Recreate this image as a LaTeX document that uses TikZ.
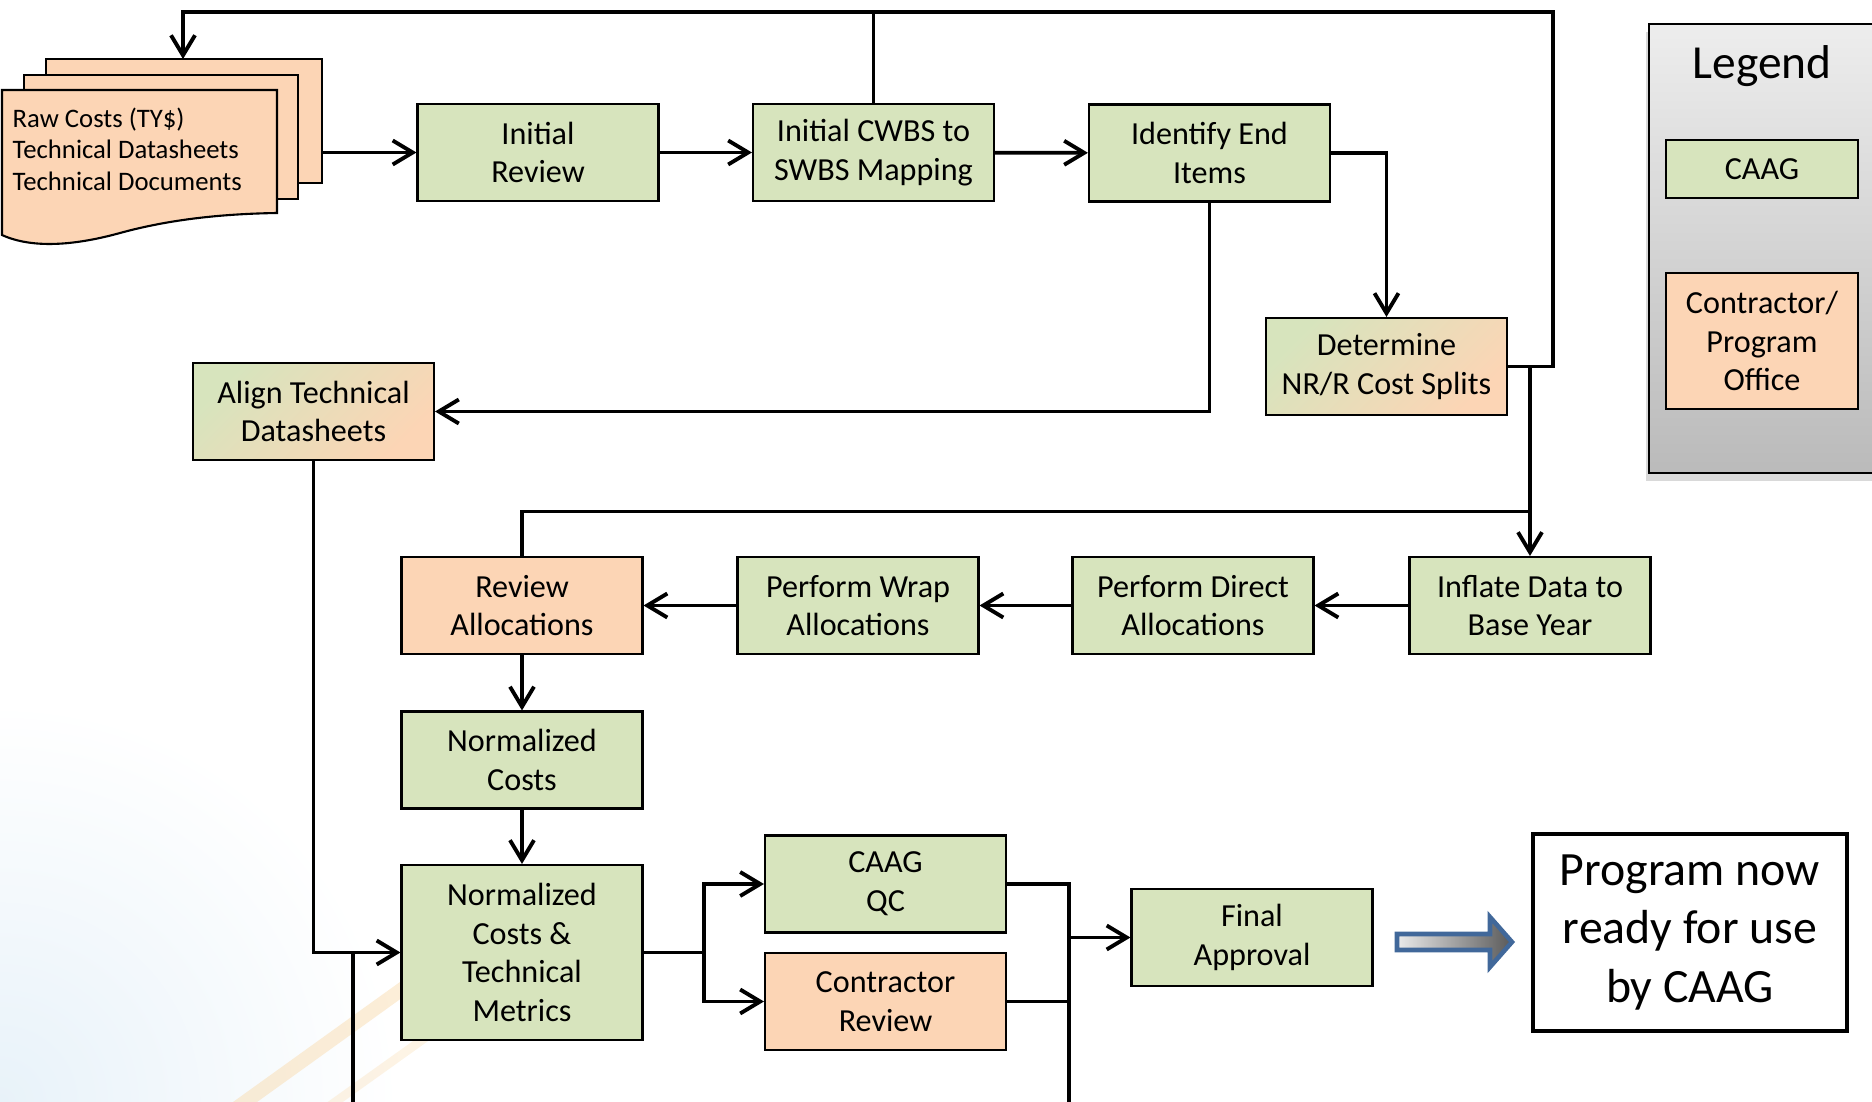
\documentclass[tikz,border=0pt]{standalone}
\usepackage{fontspec}
\setmainfont{Carlito}
\usetikzlibrary{arrows.meta,shadows}

\definecolor{caaggreen}{HTML}{D7E4BD}
\definecolor{controrange}{HTML}{FCD5B5}
\definecolor{blockblue}{HTML}{41689A}
\definecolor{streak}{HTML}{F9D9A8}
\definecolor{paleblue}{HTML}{E8F2F9}

\newcommand{\stepfont}{\fontsize{9.15}{11}\selectfont}
\newcommand{\docfont}{\fontsize{7.6}{9}\selectfont}
\newcommand{\readyfont}{\fontsize{13.6}{16.6}\selectfont}
\newcommand{\legendfont}{\fontsize{13.5}{16}\selectfont}

\begin{document}
\begin{tikzpicture}[
  >={Straight Barb[length=2mm,width=2.4mm]},
  stepbox/.style={draw, line width=0.6pt, minimum width=2.41cm, minimum height=0.97cm,
    inner sep=1pt, align=center, font=\stepfont},
  caag/.style={stepbox, fill=caaggreen},
  contr/.style={stepbox, fill=controrange},
  shared/.style={stepbox, top color=caaggreen, bottom color=controrange, shading angle=45},
  flow/.style={->, line width=1.1pt},
  link/.style={line width=1.1pt},
  drop/.style={line width=0.9pt},
  sheet/.style={draw, line width=0.6pt, fill=controrange},
]

\useasboundingbox (0,0) rectangle (18.72,-11.02);

% --- Background ---
\shade[inner color=paleblue, outer color=white] (0,-11.02) circle (4);
\draw[streak, line width=4pt, opacity=0.45] (2.2,-11.2) -- (5.4,-8.9);
\draw[streak, line width=2.5pt, opacity=0.3] (3.1,-11.2) -- (5.9,-9.2);

% --- Raw data sheets ---
\draw[sheet] (0.46,-0.59) rectangle (3.22,-1.83);
\draw[sheet] (0.24,-0.75) rectangle (2.98,-1.99);
\draw[sheet] (0.02,-0.90) -- (2.77,-0.90) -- (2.77,-2.13)
  .. controls (2.1,-2.14) and (1.6,-2.22) .. (1.2,-2.33)
  .. controls (0.8,-2.44) and (0.35,-2.5) .. (0.02,-2.35) -- cycle;
\node[anchor=north west, align=left, inner sep=0pt, font=\docfont] (docs) at (0.12,-1.07)
  {Raw Costs (TY\$)\\Technical Datasheets\\Technical Documents};
\coordinate (docs-in) at (1.83,-0.59);
\coordinate (docs-out) at (3.22,-1.525);

% --- Legend ---
\draw[line width=0.8pt, top color=black!7, bottom color=black!27,
  drop shadow={opacity=0.3, shadow xshift=-0.3mm, shadow yshift=-0.8mm}]
  (16.49,-0.24) rectangle (19.2,-4.73);
\node[font=\legendfont] (legend) at (17.62,-0.66) {Legend};
\node[caag, minimum width=1.92cm, minimum height=0.58cm] (key-caag) at (17.62,-1.69) {CAAG};
\node[contr, minimum width=1.92cm, minimum height=1.36cm] (key-contr) at (17.62,-3.41)
  {Contractor/\\Program\\Office};

% --- Steps ---
\node[caag] (init) at (5.38,-1.525) {Initial\\Review};
\node[caag] (cwbs) at (8.735,-1.525) {Initial CWBS to\\SWBS Mapping};
\node[caag] (ident) at (12.095,-1.53) {Identify End\\Items};
\node[shared] (determ) at (13.865,-3.665) {Determine\\NR/R Cost Splits};
\node[shared] (align) at (3.135,-4.115) {Align Technical\\Datasheets};

\node[contr] (revalloc) at (5.22,-6.055) {Review\\Allocations};
\node[caag] (wrap) at (8.58,-6.055) {Perform Wrap\\Allocations};
\node[caag] (direct) at (11.93,-6.055) {Perform Direct\\Allocations};
\node[caag] (inflate) at (15.30,-6.055) {Inflate Data to\\Base Year};

\node[caag] (normc) at (5.22,-7.60) {Normalized\\Costs};
\node[caag, minimum height=1.75cm] (nctm) at (5.22,-9.525)
  {Normalized\\Costs \&\\Technical\\Metrics};
\node[caag] (qc) at (8.855,-8.84) {CAAG\\QC};
\node[contr] (creview) at (8.855,-10.015) {Contractor\\Review};
\node[caag] (final) at (12.52,-9.375) {Final\\Approval};

\node[draw, line width=1.3pt, fill=white, minimum width=3.14cm, minimum height=1.97cm,
  align=center, font=\readyfont] (ready) at (16.90,-9.325) {Program now\\ready for use\\by CAAG};

% --- Block arrow ---
\draw[blockblue, line width=1.3pt, left color=black!8, right color=black!65]
  (13.97,-9.34) -- (14.90,-9.34) -- (14.90,-9.17) -- (15.12,-9.42)
  -- (14.90,-9.67) -- (14.90,-9.50) -- (13.97,-9.50) -- cycle;

% --- Connectors ---
\coordinate (loop-top) at (15.53,-0.12);
\coordinate (back-in) at (15.30,-5.115);
\coordinate (split) at (7.04,-9.525);
\coordinate (out-a) at (3.53,-11.1);
\coordinate (out-b) at (10.69,-11.1);

\draw[flow] (docs-out) -- (init.west);
\draw[flow] (init) -- (cwbs);
\draw[flow] (cwbs) -- (ident);
\draw[flow] (ident.east) -| (determ.north);
\draw[flow] (ident.south) |- (align.east);
\draw[flow] (determ.east) -| (loop-top) -| (docs-in);
\draw[link] (cwbs.north) -- (cwbs.north |- loop-top);
\draw[flow] (inflate.north |- determ.east) -- (inflate.north);
\draw[link] (revalloc.north) |- (back-in);

\draw[flow] (inflate) -- (direct);
\draw[flow] (direct) -- (wrap);
\draw[flow] (wrap) -- (revalloc);
\draw[flow] (revalloc) -- (normc);
\draw[flow] (normc) -- (nctm);

\draw[flow] (align.south) |- (nctm.west);
\draw[drop] (out-a |- nctm.west) -- (out-a);

\draw[link] (nctm.east) -- (split);
\draw[flow] (split) |- (qc.west);
\draw[flow] (split) |- (creview.west);
\draw[link] (qc.east) -| (out-b);
\draw[link] (creview.east) -- (creview.east -| out-b);
\draw[flow] (out-b |- final.west) -- (final.west);

\end{tikzpicture}
\end{document}
